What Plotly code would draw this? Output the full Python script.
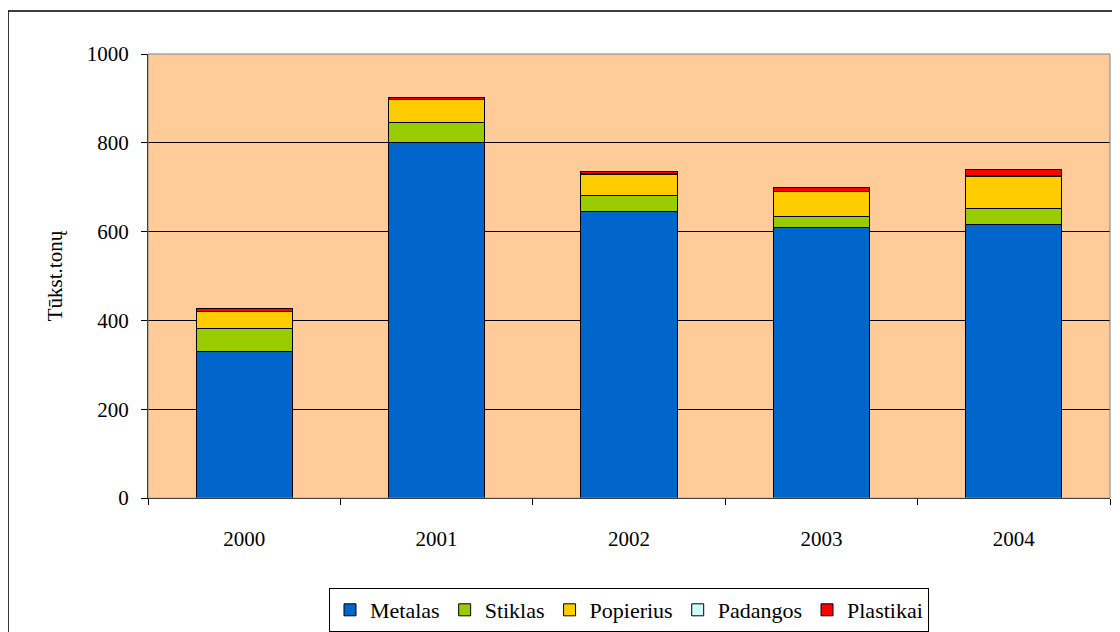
import plotly.graph_objects as go

years = ["2000", "2001", "2002", "2003", "2004"]
metalas = [331, 800, 646, 610, 615]
stiklas = [50, 45, 36, 23, 36]
popierius = [38, 52, 47, 57, 72]
padangos = [1, 1, 1, 1, 3]
plastikai = [6, 5, 5, 8, 15]

series = [
    ("Metalas", metalas, "#0066CC"),
    ("Stiklas", stiklas, "#99CC00"),
    ("Popierius", popierius, "#FFCC00"),
    ("Padangos", padangos, "#CCFFFF"),
    ("Plastikai", plastikai, "#FF0000"),
]

fig = go.Figure()
for name, vals, col in series:
    fig.add_trace(go.Bar(x=years, y=vals, name=name, marker_color=col,
                         marker_line_color="black", marker_line_width=1))

# page body has an 8px margin, so the figure is a bit smaller than the window
serif = "Liberation Serif, Times New Roman, serif"
fig.update_layout(
    barmode="stack",
    bargap=0.5,
    width=1112, height=624,
    margin=dict(l=140, r=10, t=46, b=134, autoexpand=False),
    paper_bgcolor="white",
    plot_bgcolor="#FFCC99",
    font=dict(family=serif, size=21, color="black"),
    showlegend=True,
    legend=dict(orientation="h", traceorder="normal", x=0.5, xanchor="center",
                y=-0.2027, yanchor="top",
                bordercolor="black", borderwidth=1, font=dict(size=22),
                itemwidth=30, tracegroupgap=0),
    xaxis=dict(showline=True, linecolor="black", ticks="outside", tickson="boundaries",
               ticklen=6, tickcolor="black", showgrid=False, tickfont=dict(size=21),
               ticklabelstandoff=22),
    yaxis=dict(range=[0, 1000], dtick=200, showline=True, linecolor="black",
               ticks="outside", ticklen=6, tickcolor="black",
               gridcolor="black", gridwidth=1, tickfont=dict(size=21),
               ticklabelstandoff=8,
               title=dict(text="Tūkst.tonų", font=dict(size=21), standoff=18)),
)

# plot area border (top/right) and outer chart frame
fig.add_shape(type="rect", xref="paper", yref="paper", x0=0, y0=0, x1=1, y1=1,
              line=dict(color="#808080", width=1), layer="above")
fig.add_shape(type="rect", xref="paper", yref="paper", x0=-0.1455, y0=-0.4, x1=1.1, y1=1.0968,
              line=dict(color="black", width=1.5))

fig.write_html("out.html")
